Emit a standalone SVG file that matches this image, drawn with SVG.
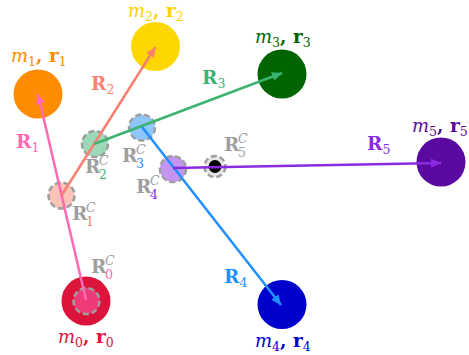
<svg xmlns="http://www.w3.org/2000/svg" width="469" height="355" viewBox="0 0 469 355">
<style>
text{font-family:"DejaVu Serif","Liberation Serif",serif;}
.m{font-style:italic;font-size:18px;}
.b{font-weight:bold;font-size:18.5px;}
.sub{font-size:12.5px;font-style:normal;font-weight:normal;}
.supc{font-style:italic;font-size:12.5px;fill:#9e9e9e;}
.g{fill:#9e9e9e;}
.dash{stroke:#9e9e9e;stroke-width:2.5;stroke-dasharray:6 3;}
.ln{stroke-width:2.5;fill:none;}
</style>
<defs>
<marker id="a1" markerUnits="userSpaceOnUse" markerWidth="11" markerHeight="9" refX="10" refY="4.5" orient="auto"><path d="M0,0 L10,4.5 L0,9 z" fill="#ff69b4"/></marker>
<marker id="a2" markerUnits="userSpaceOnUse" markerWidth="11" markerHeight="9" refX="10" refY="4.5" orient="auto"><path d="M0,0 L10,4.5 L0,9 z" fill="#fa7f6f"/></marker>
<marker id="a3" markerUnits="userSpaceOnUse" markerWidth="11" markerHeight="9" refX="10" refY="4.5" orient="auto"><path d="M0,0 L10,4.5 L0,9 z" fill="#3cb371"/></marker>
<marker id="a4" markerUnits="userSpaceOnUse" markerWidth="11" markerHeight="9" refX="10" refY="4.5" orient="auto"><path d="M0,0 L10,4.5 L0,9 z" fill="#1e90ff"/></marker>
<marker id="a5" markerUnits="userSpaceOnUse" markerWidth="11" markerHeight="9" refX="10" refY="4.5" orient="auto"><path d="M0,0 L10,4.5 L0,9 z" fill="#8a2be2"/></marker>
</defs>
<rect width="469" height="355" fill="#ffffff"/>

<g id="m0">
<circle cx="86" cy="301" r="24.5" fill="#dc143c"/>
<text x="58" y="343" fill="#dc143c"><tspan class="m">m</tspan><tspan class="sub" dy="4">0</tspan><tspan class="b" dy="-4">, r</tspan><tspan class="sub" dy="4">0</tspan></text>
</g>
<g id="m1">
<circle cx="38" cy="94" r="24.5" fill="#ff8c00"/>
<text x="11" y="62" fill="#ff8c00"><tspan class="m">m</tspan><tspan class="sub" dy="4">1</tspan><tspan class="b" dy="-4">, r</tspan><tspan class="sub" dy="4">1</tspan></text>
</g>
<g id="m2">
<circle cx="155.5" cy="46.5" r="24.5" fill="#ffd700"/>
<text x="128" y="17" fill="#ffd000"><tspan class="m">m</tspan><tspan class="sub" dy="4">2</tspan><tspan class="b" dy="-4">, r</tspan><tspan class="sub" dy="4">2</tspan></text>
</g>
<g id="m3">
<circle cx="282" cy="74" r="24.5" fill="#006400"/>
<text x="255" y="43" fill="#006400"><tspan class="m">m</tspan><tspan class="sub" dy="4">3</tspan><tspan class="b" dy="-4">, r</tspan><tspan class="sub" dy="4">3</tspan></text>
</g>
<g id="m4">
<circle cx="282" cy="304.5" r="24.5" fill="#0000cd"/>
<text x="255" y="347" fill="#0000cd"><tspan class="m">m</tspan><tspan class="sub" dy="4">4</tspan><tspan class="b" dy="-4">, r</tspan><tspan class="sub" dy="4">4</tspan></text>
</g>
<g id="m5">
<circle cx="441" cy="162" r="24.5" fill="#5a0aa0"/>
<text x="412" y="132" fill="#5a0aa0"><tspan class="m">m</tspan><tspan class="sub" dy="4">5</tspan><tspan class="b" dy="-4">, r</tspan><tspan class="sub" dy="4">5</tspan></text>
</g>

<g id="Rc0">
<circle cx="86.5" cy="301" r="13" fill="#ee3a78" class="dash"/>
<text x="91" y="273" class="b g">R</text>
<text x="105" y="265" class="supc">C</text>
<text x="105" y="279" class="sub" fill="#ff69b4">0</text>
</g>
<g id="Rc1">
<circle cx="61.5" cy="195.5" r="13" fill="#fcc3b8" class="dash"/>
<text x="72" y="220" class="b g">R</text>
<text x="86" y="212" class="supc">C</text>
<text x="86" y="226" class="sub" fill="#fa7f6f">1</text>
</g>
<g id="Rc2">
<circle cx="95" cy="144" r="13" fill="#9dd9b8" class="dash"/>
<text x="85" y="173" class="b g">R</text>
<text x="99" y="165" class="supc">C</text>
<text x="99" y="179" class="sub" fill="#3cb371">2</text>
</g>
<g id="Rc3">
<circle cx="142" cy="127.5" r="13" fill="#8ec7ff" class="dash"/>
<text x="122" y="162" class="b g">R</text>
<text x="136" y="154" class="supc">C</text>
<text x="136" y="168" class="sub" fill="#1e90ff">3</text>
</g>
<g id="Rc4">
<circle cx="173" cy="169" r="13" fill="#c495f0" class="dash"/>
<text x="136" y="193" class="b g">R</text>
<text x="150" y="185" class="supc">C</text>
<text x="150" y="199" class="sub" fill="#8a2be2">4</text>
</g>
<g id="Rc5">
<circle cx="215" cy="166.5" r="10.5" fill="#e8e8e8" class="dash"/>
<circle cx="215" cy="166.5" r="6.5" fill="#000000"/>
<text x="224" y="151" class="b g">R</text>
<text x="238" y="143" class="supc">C</text>
<text x="238" y="157" class="sub g">5</text>
</g>

<g id="connectors">
<line x1="86" y1="300" x2="38" y2="94" class="ln" stroke="#ff69b4" marker-end="url(#a1)"/>
<line x1="61.5" y1="195.5" x2="155.5" y2="47" class="ln" stroke="#fa7f6f" marker-end="url(#a2)"/>
<line x1="94" y1="144" x2="282" y2="73" class="ln" stroke="#3cb371" marker-end="url(#a3)"/>
<line x1="142" y1="127" x2="281" y2="305" class="ln" stroke="#1e90ff" marker-end="url(#a4)"/>
<line x1="173" y1="168" x2="441" y2="163" class="ln" stroke="#8a2be2" marker-end="url(#a5)"/>
<text x="16" y="148" class="b" fill="#ff69b4">R<tspan class="sub" dy="4">1</tspan></text>
<text x="91" y="90" class="b" fill="#fa7f6f">R<tspan class="sub" dy="4">2</tspan></text>
<text x="202" y="84" class="b" fill="#3cb371">R<tspan class="sub" dy="4">3</tspan></text>
<text x="224" y="283" class="b" fill="#1e90ff">R<tspan class="sub" dy="4">4</tspan></text>
<text x="367" y="150" class="b" fill="#8a2be2">R<tspan class="sub" dy="4">5</tspan></text>
</g>
</svg>
